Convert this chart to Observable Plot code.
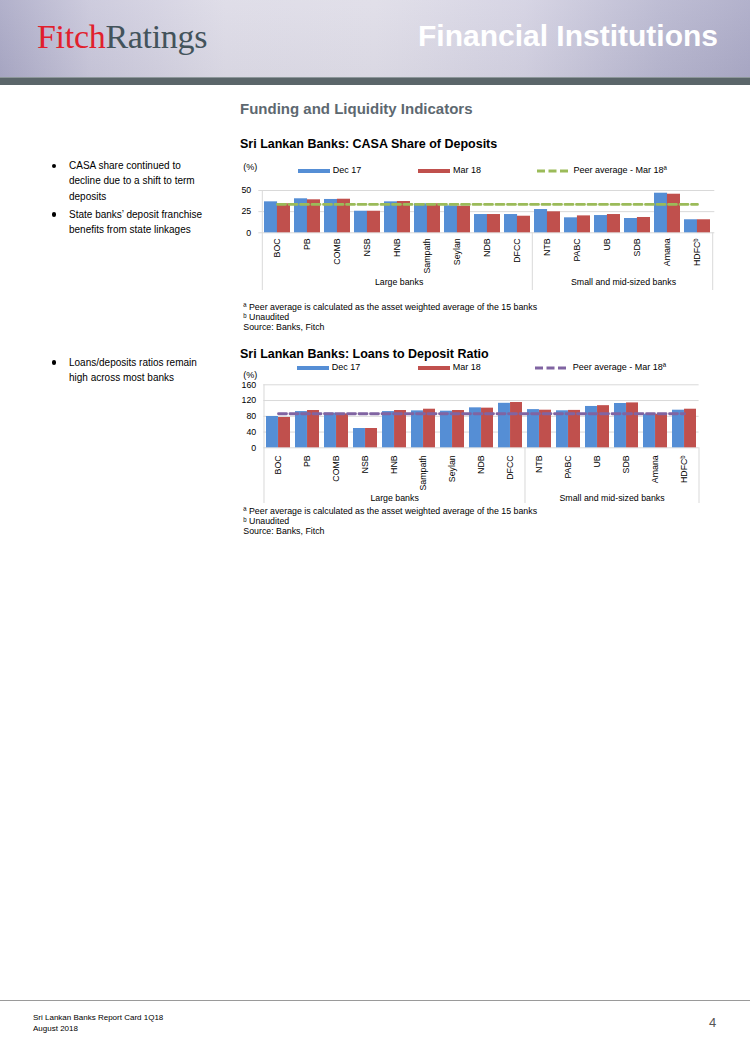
<!DOCTYPE html>
<html>
<head>
<meta charset="utf-8">
<script src="https://cdn.jsdelivr.net/npm/d3@7"></script>
<script src="https://cdn.jsdelivr.net/npm/@observablehq/plot@0.6"></script>
<style>
  html, body { margin: 0; padding: 0; }
  body { width: 750px; height: 1038px; position: relative; overflow: hidden; background: #fff;
         font-family: Arial, "Liberation Sans", Helvetica, sans-serif; color: #000; }
  .abs { position: absolute; white-space: nowrap; line-height: 1; }
  #header { position: absolute; left: 0; top: 0; width: 750px; height: 77px;
    background: linear-gradient(180deg, rgba(255,255,255,0.10), rgba(0,0,0,0.02)),
      linear-gradient(90deg, #a9a8c5 0%, #c8c6da 12%, #dcdae6 30%, #dedce7 50%, #d2d0e1 70%, #b7b6cf 88%, #aaa9c6 100%); }
  #bar { position: absolute; left: 0; top: 77px; width: 750px; height: 8px; background: #5b666a; border-top: 1px solid #8d979a; box-sizing: border-box; }
  .logo { font-family: "Liberation Serif", "Times New Roman", serif; font-size: 34px; letter-spacing: -0.3px; }
  .hd { font-weight: bold; color: #fff; font-size: 30px; }
  .sect { font-weight: bold; color: #5d6870; font-size: 15px; }
  .title { font-weight: bold; font-size: 12.5px; color: #000; }
  .leg { font-size: 9px; color: #000; }
  .sw { position: absolute; height: 4px; width: 32px; }
  .note { font-size: 8.8px; color: #000; }
  .bul { font-size: 10px; line-height: 15.3px; color: #000; }
  .dot { position: absolute; width: 4.5px; height: 4.5px; border-radius: 50%; background: #000; }
  .chart { position: absolute; }
  .foot { font-size: 8px; color: #000; }
</style>
</head>
<body>
<div id="header"></div>
<div id="bar"></div>
<div class="abs logo" style="left:37px; top:19.8px;"><span style="color:#e1202c">Fitch</span><span style="color:#43535b">Ratings</span></div>
<div class="abs hd" style="right:32px; top:20.6px;">Financial Institutions</div>

<div class="abs sect" style="left:240px; top:100.6px;">Funding and Liquidity Indicators</div>

<!-- Left commentary -->
<div class="dot" style="left:51.5px; top:163.5px;"></div>
<div class="abs bul" style="left:69px; top:158px;">CASA share continued to<br>decline due to a shift to term<br>deposits</div>
<div class="dot" style="left:51.5px; top:212.2px;"></div>
<div class="abs bul" style="left:69px; top:206.7px;">State banks’ deposit franchise<br>benefits from state linkages</div>
<div class="dot" style="left:51.5px; top:360.2px;"></div>
<div class="abs bul" style="left:69px; top:354.7px;">Loans/deposits ratios remain<br>high across most banks</div>

<!-- Chart 1 -->
<div class="abs title" style="left:240px; top:137.9px;">Sri Lankan Banks: CASA Share of Deposits</div>
<div class="abs leg" style="left:243.3px; top:163.4px;">(%)</div>
<div class="sw" style="left:297.5px; top:168.8px; background:#558ed5;"></div>
<div class="abs leg" style="left:332.7px; top:166.3px;" id="l1a"></div>
<div class="sw" style="left:418px; top:168.8px; background:#c0504d;"></div>
<div class="abs leg" style="left:453px; top:166.3px;" id="l1b"></div>
<svg class="abs" style="left:537px; top:168.8px;" width="32" height="4"><line x1="0" x2="32" y1="2" y2="2" stroke="#9bbb59" stroke-width="3" stroke-dasharray="8,3.5"/></svg>
<div class="abs leg" style="left:573.5px; top:166.3px;" id="l1c"></div>
<div id="chart1" class="chart" style="left:230px; top:180px;"></div>
<div class="abs note" style="left:243.3px; top:302.6px;" id="n1a"></div>
<div class="abs note" style="left:243.3px; top:312.6px;" id="n1b"></div>
<div class="abs note" style="left:243.3px; top:322.6px;" id="n1c"></div>

<!-- Chart 2 -->
<div class="abs title" style="left:240px; top:348.4px;">Sri Lankan Banks: Loans to Deposit Ratio</div>
<div class="sw" style="left:297px; top:365.7px; background:#558ed5;"></div>
<div class="abs leg" style="left:331.7px; top:363.3px;" id="l2a"></div>
<div class="sw" style="left:417.7px; top:365.7px; background:#c0504d;"></div>
<div class="abs leg" style="left:452.7px; top:363.3px;" id="l2b"></div>
<svg class="abs" style="left:535px; top:365.7px;" width="32" height="4"><line x1="0" x2="32" y1="2" y2="2" stroke="#8064a2" stroke-width="3" stroke-dasharray="8,3.5"/></svg>
<div class="abs leg" style="left:572.7px; top:363.3px;" id="l2c"></div>
<div class="abs leg" style="left:243.3px; top:371px;">(%)</div>
<div id="chart2" class="chart" style="left:230px; top:374px;"></div>
<div class="abs note" style="left:243.3px; top:506.6px;" id="n2a"></div>
<div class="abs note" style="left:243.3px; top:516.9px;" id="n2b"></div>
<div class="abs note" style="left:243.3px; top:527.2px;" id="n2c"></div>

<!-- Footer -->
<div style="position:absolute; left:0; top:1000px; width:750px; height:1px; background:#9a9a9a;"></div>
<div class="abs foot" style="left:33px; top:1014px;">Sri Lankan Banks Report Card 1Q18</div>
<div class="abs foot" style="left:33px; top:1025px;">August 2018</div>
<div class="abs" style="left:709px; top:1015.5px; font-size:13px; color:#555;">4</div>

<script>
// ---------------- DATA ----------------
const largeBanks = ["BOC", "PB", "COMB", "NSB", "HNB", "Sampath", "Seylan", "NDB", "DFCC"];
const smallBanks = ["NTB", "PABC", "UB", "SDB", "Amana", "HDFCᵇ"];
const banks = [...largeBanks, ...smallBanks];
const groupNames = ["Large banks", "Small and mid-sized banks"];
const seriesNames = ["Dec 17", "Mar 18", "Peer average - Mar 18ª"];

// CASA share of deposits (%)
const casaDec17 = [36.6, 40.2, 39.4, 25.5, 36.6, 34.3, 31.9, 21.6, 21.6, 27.5, 17.7, 20.4, 16.9, 46.8, 15.4];
const casaMar18 = [34.3, 39.0, 39.7, 25.5, 37.0, 34.3, 31.5, 21.6, 19.6, 24.8, 20.0, 21.6, 18.1, 45.6, 15.4];
const casaPeerMar18 = 33.5;
const casaTicks = [0, 25, 50];

// Loans to deposit ratio (%)
const ldrDec17 = [79.5, 92.0, 88.0, 49.0, 92.0, 93.8, 93.0, 101.5, 113.0, 97.0, 94.0, 105.0, 112.5, 84.5, 95.5];
const ldrMar18 = [77.0, 94.7, 86.0, 49.0, 94.7, 98.0, 94.7, 100.7, 115.0, 95.5, 95.0, 107.0, 114.0, 84.5, 98.0];
const ldrPeerMar18 = 86.5;
const ldrTicks = [0, 40, 80, 120, 160];

const notes = ["ª Peer average is calculated as the asset weighted average of  the 15 banks", "ᵇ Unaudited", "Source: Banks, Fitch"];

// ---------------- TEXT ----------------
["l1a", "l2a"].forEach(id => document.getElementById(id).textContent = seriesNames[0]);
["l1b", "l2b"].forEach(id => document.getElementById(id).textContent = seriesNames[1]);
["l1c", "l2c"].forEach(id => document.getElementById(id).textContent = seriesNames[2]);
["a", "b", "c"].forEach((k, i) => {
  document.getElementById("n1" + k).textContent = notes[i];
  document.getElementById("n2" + k).textContent = notes[i];
});

// ---------------- CHART ----------------
const BLUE = "#558ed5", RED = "#c0504d";

function makeChart(cfg) {
  const {dec, mar, peer, peerColor, ticks, width, height, mL, mR, mT, mB, pad, xTickPad, groupDy, sepExt} = cfg;
  const plotW = width - mL - mR;
  const plotH = height - mT - mB;
  const step = plotW / banks.length;
  const bw = step * (1 - pad);
  const rows = banks.map((b, i) => ({bank: b, dec: dec[i], mar: mar[i]}));
  const gridColor = "#d9d9d9";

  return Plot.plot({
    width, height,
    marginLeft: mL, marginRight: mR, marginTop: mT, marginBottom: mB,
    style: {fontFamily: "Arial, 'Liberation Sans', sans-serif", fontSize: "8.8px", color: "#000", background: "transparent", overflow: "visible"},
    x: {type: "band", domain: banks, paddingInner: pad, paddingOuter: pad / 2, align: 0.5},
    y: {domain: [0, ticks[ticks.length - 1]]},
    marks: [
      Plot.gridY(ticks, {stroke: gridColor, strokeOpacity: 1, strokeWidth: 1}),
      // left axis line through the plot and down into the label area
      Plot.ruleX([banks[0]], {x: d => d, dx: -step / 2, stroke: gridColor, strokeWidth: 1, insetBottom: -sepExt}),
      // group separators below the plot
      Plot.ruleX([smallBanks[0]], {x: d => d, dx: -step / 2, stroke: gridColor, strokeWidth: 1, insetTop: plotH, insetBottom: -sepExt}),
      Plot.ruleX([banks[banks.length - 1]], {x: d => d, dx: step / 2, stroke: gridColor, strokeWidth: 1, insetTop: plotH, insetBottom: -sepExt}),
      Plot.barY(rows, {x: "bank", y: "dec", fill: BLUE, insetRight: bw / 2}),
      Plot.barY(rows, {x: "bank", y: "mar", fill: RED, insetLeft: bw / 2}),
      Plot.lineY(banks, {x: d => d, y: () => peer, stroke: peerColor, strokeWidth: 2.8, strokeDasharray: "8,3.5", curve: "linear"}),
      Plot.axisY(ticks, {tickSize: 0, tickPadding: 7.6, label: null, fontSize: 8.8, fill: "#000"}),
      Plot.axisX({tickRotate: -90, tickSize: 0, tickPadding: xTickPad, label: null, fontSize: 8.8, fill: "#000"}),
      Plot.text([groupNames[0]], {x: () => largeBanks[0], frameAnchor: "bottom", dy: groupDy, dx: (largeBanks.length - 1) / 2 * step, text: d => d, fontSize: 8.8, fill: "#000"}),
      Plot.text([groupNames[1]], {x: () => smallBanks[0], frameAnchor: "bottom", dy: groupDy, dx: (smallBanks.length - 1) / 2 * step, text: d => d, fontSize: 8.8, fill: "#000"})
    ]
  });
}

document.getElementById("chart1").appendChild(makeChart({
  dec: casaDec17, mar: casaMar18, peer: casaPeerMar18, peerColor: "#9bbb59", ticks: casaTicks,
  width: 500, height: 115, mL: 28.3, mR: 15.7, mT: 10, mB: 62.7, pad: 0.15, xTickPad: 5.5, groupDy: 52, sepExt: 57.7
}));

document.getElementById("chart2").appendChild(makeChart({
  dec: ldrDec17, mar: ldrMar18, peer: ldrPeerMar18, peerColor: "#8064a2", ticks: ldrTicks,
  width: 480, height: 134, mL: 33.3, mR: 11.4, mT: 10.3, mB: 60.7, pad: 0.17, xTickPad: 7.5, groupDy: 52.7, sepExt: 55.7
}));
</script>
</body>
</html>
